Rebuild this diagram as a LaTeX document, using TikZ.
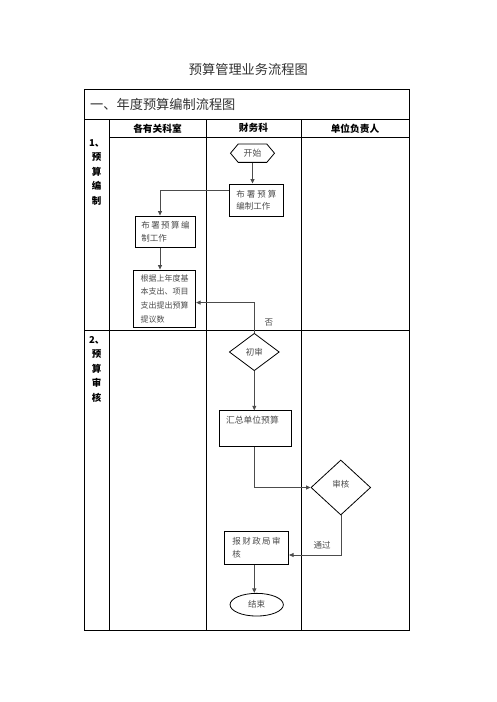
\documentclass[tikz,border=0pt]{standalone}
\usepackage{fontspec}
\setmainfont{Noto Sans CJK SC}
\usetikzlibrary{arrows.meta,shapes.geometric,shapes.symbols}
\tikzset{
  tbl/.style={line width=0.8pt, draw=black},
  box/.style={draw=black, line width=0.8pt, inner sep=0pt, text=black!70, align=left},
  conn/.style={draw=black!70, line width=0.8pt},
  arr/.style={conn, -{Triangle[length=4.5pt,width=4pt]}},
  lbl/.style={inner sep=0pt, text=black!70, font=\fontsize{8.5}{10}\selectfont},
  hdr/.style={inner sep=0pt, font=\fontsize{9.7}{11}\selectfont\bfseries},
  side/.style={inner sep=0pt, align=center, font=\fontsize{9.5}{14.5}\selectfont\bfseries},
}
\begin{document}
\begin{tikzpicture}[x=1pt,y=-1pt]
\useasboundingbox[fill=white] (0,0) rectangle (496,702);
% title
\node[inner sep=0pt, text=black!80, font=\fontsize{13.2}{15}\selectfont] (title) at (248.3,69) {预算管理业务流程图};
% table
\draw[tbl] (84,89) rectangle (409,630);
\draw[tbl] (84,119.5) -- (409,119.5);
\draw[tbl] (109,137) -- (409,137);
\draw[tbl] (84,330) -- (409,330);
\draw[tbl] (109,119.5) -- (109,630);
\draw[tbl] (206,119.5) -- (206,630);
\draw[tbl] (301,119.5) -- (301,630);
\node[inner sep=0pt, anchor=west, text=black!80, font=\fontsize{13.2}{15}\selectfont] (rowtitle) at (90,104.5) {一、年度预算编制流程图};
\node[hdr] (h1) at (157.5,128.3) {各有关科室};
\node[hdr] (h2) at (253.5,128.3) {财务科};
\node[hdr] (h3) at (355,128.3) {单位负责人};
\node[side] (s1) at (96.7,172) {1、\\预\\算\\编\\制};
\node[side] (s2) at (96.7,369) {2、\\预\\算\\审\\核};
% nodes
\node[signal, signal to=east and west, signal pointer angle=100, draw=black, line width=0.8pt, inner sep=0pt, minimum width=44pt, minimum height=18.3pt, text=black!70, font=\fontsize{8.8}{10}\selectfont] (ks) at (252.5,153.2) {开始};
\node[box, minimum width=54.7pt, minimum height=32.7pt, font=\fontsize{8.5}{12.7}\selectfont] (b1) at (256.4,200.3)
  {\makebox[40pt][s]{布\hfill 署\hfill 预\hfill 算}\\编制工作};
\node[box, minimum width=60.4pt, minimum height=31.7pt, font=\fontsize{8.5}{12.7}\selectfont] (b2) at (165.5,231.8)
  {\makebox[48.3pt][s]{布\hfill 署\hfill 预\hfill 算\hfill 编}\\制工作};
\node[box, minimum width=62.4pt, minimum height=57.3pt, font=\fontsize{8}{13.7}\selectfont] (b3) at (164.5,298.6)
  {根据上年度基\\本支出、项目\\支出提出预算\\提议数};
\node[diamond, draw=black, line width=0.8pt, inner sep=0pt, minimum width=50pt, minimum height=37.4pt, text=black!70, font=\fontsize{8.5}{10}\selectfont] (cs) at (254.3,352) {初审};
\node[box, minimum width=71.4pt, minimum height=36pt] (hz) at (255.5,428.7) {};
\node[lbl, anchor=north west, font=\fontsize{8.8}{10}\selectfont] (hzt) at ([xshift=6.4pt,yshift=-5.5pt]hz.north west) {汇总单位预算};
\node[diamond, draw=black, line width=0.8pt, inner sep=0pt, minimum width=59.7pt, minimum height=55pt, text=black!70, font=\fontsize{8.5}{10}\selectfont, text depth=8pt] (sh) at (340.8,487.5) {审核};
\node[box, minimum width=64.4pt, minimum height=33.3pt, font=\fontsize{8.5}{12.7}\selectfont] (bc) at (256.5,547.7)
  {\makebox[48.3pt][s]{报\hfill 财\hfill 政\hfill 局\hfill 审}\\核};
\node[ellipse, draw=black, line width=0.8pt, inner sep=0pt, minimum width=53.3pt, minimum height=22.7pt, text=black!70, font=\fontsize{8.5}{10}\selectfont] (js) at (256.7,604.7) {结束};
% connectors
\draw[arr] (ks.south) -- (ks.south |- b1.north);
\draw[arr] ([yshift=9.6pt]b1.west) -| ([xshift=-5.5pt]b2.north);
\draw[arr] ([xshift=-5.5pt]b2.south) -- ([xshift=-4.5pt]b3.north);
\draw[arr] (cs.north) |- ([yshift=-4pt]b3.east);
\node[lbl] (no) at (268.8,322.5) {否};
\draw[arr] (cs.south) -- (cs.south |- hz.north);
\draw[arr] ([xshift=-1.2pt]hz.south) |- (sh.west);
\draw[arr] ([xshift=0.9pt]sh.south) |- ([yshift=-7.3pt]bc.east);
\node[lbl, anchor=west] (pass) at (313.3,545) {通过};
\draw[arr] ([xshift=-2.2pt]bc.south) -- ([xshift=-2.2pt]bc.south |- js.north);
\end{tikzpicture}
\end{document}
